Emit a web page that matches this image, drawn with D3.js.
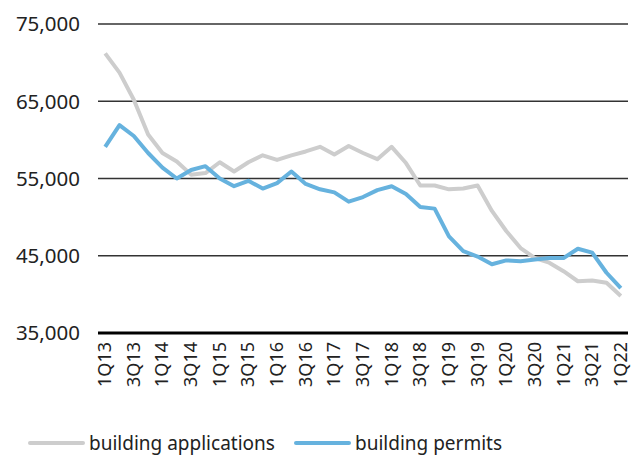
<!DOCTYPE html>
<html>
<head>
<meta charset="utf-8">
<script src="https://cdn.jsdelivr.net/npm/d3@7"></script>
<style>
  html, body { margin: 0; padding: 0; background: #fff; }
  #chart { width: 632px; height: 457px; overflow: hidden; }
  text { font-family: "Noto Sans", "Open Sans", sans-serif; fill: #222; }
</style>
</head>
<body>
<div id="chart"></div>
<script>
// quarters 1Q13 .. 1Q22
const quarters = [];
for (let yr = 13; yr <= 22; yr++) {
    for (let q = 1; q <= 4; q++) {
        if (yr === 22 && q > 1) break;
        quarters.push(`${q}Q${yr}`);
    }
}

const applications = [
    71200, 68700, 65200, 60700, 58300, 57200, 55500, 55700, 57100, 55900,
    57100, 58000, 57400, 58000, 58500, 59100, 58100, 59200, 58300, 57500,
    59100, 57000, 54100, 54100, 53600, 53700, 54100, 50800, 48200, 46000,
    44700, 44100, 43000, 41700, 41800, 41500, 39800
];
const permits = [
    59100, 61900, 60500, 58300, 56400, 55000, 56100, 56600, 55000, 54000,
    54700, 53700, 54400, 55900, 54300, 53600, 53200, 52000, 52600, 53500,
    54000, 53000, 51300, 51100, 47500, 45600, 44900, 43900, 44400, 44300,
    44500, 44700, 44700, 45900, 45400, 42800, 40800
];
const yTicks = [35000, 45000, 55000, 65000, 75000];
const series = [
    { name: "building applications", values: applications, color: "#cdcdcd" },
    { name: "building permits", values: permits, color: "#66b2de" }
];

(() => {
    const W = 632, H = 457;
    const m = { top: 24, right: 4, bottom: 124, left: 98 };
    const h = H - m.top - m.bottom;

    const svg = d3.select("#chart").append("svg").attr("width", W).attr("height", H);
    const g = svg.append("g").attr("transform", `translate(${m.left},${m.top})`);

    const x = d3.scaleBand().domain(quarters).range([0, 530]);
    const y = d3.scaleLinear().domain([35000, 75000]).range([h, 0]);
    const fmt = d3.format(",");

    // grid + y labels
    g.selectAll(".grid")
        .data(yTicks)
        .join("line")
        .attr("x1", 0).attr("x2", 530)
        .attr("y1", d => y(d)).attr("y2", d => y(d))
        .attr("stroke", d => d === 35000 ? "#000" : "#333")
        .attr("stroke-width", d => d === 35000 ? 3 : 1.3);

    g.selectAll(".ylab")
        .data(yTicks)
        .join("text")
        .attr("x", -18).attr("y", d => y(d))
        .attr("dy", "0.36em")
        .attr("text-anchor", "end")
        .attr("font-size", 20.5)
        .text(d => fmt(d));

    // x labels every second quarter
    g.selectAll(".xlab")
        .data(quarters.filter((d, i) => i % 2 === 0))
        .join("text")
        .attr("transform", d => `translate(${x(d) + x.bandwidth() / 2 + 6},${h + 9}) rotate(-90)`)
        .attr("text-anchor", "end")
        .attr("font-size", 18)
        .text(d => d);

    const line = d3.line()
        .x((d, i) => x(quarters[i]) + x.bandwidth() / 2)
        .y(d => y(d));

    g.selectAll(".series")
        .data(series)
        .join("path")
        .attr("d", d => line(d.values))
        .attr("fill", "none")
        .attr("stroke", d => d.color)
        .attr("stroke-width", 4)
        .attr("stroke-linejoin", "round");

    // legend (kept just inside the bottom edge)
    const leg = svg.append("g").attr("transform", `translate(0,${H - 14})`);
    const items = [{ s: series[0], x: 30 }, { s: series[1], x: 296 }];
    items.forEach(({ s, x: lx }) => {
        leg.append("line")
            .attr("x1", lx).attr("x2", lx + 53)
            .attr("y1", 0).attr("y2", 0)
            .attr("stroke", s.color).attr("stroke-width", 4)
            .attr("stroke-linecap", "round");
        leg.append("text")
            .attr("x", lx + 59).attr("y", 0)
            .attr("dy", "0.35em")
            .attr("font-size", 19)
            .text(s.name);
    });
})();
</script>
</body>
</html>
